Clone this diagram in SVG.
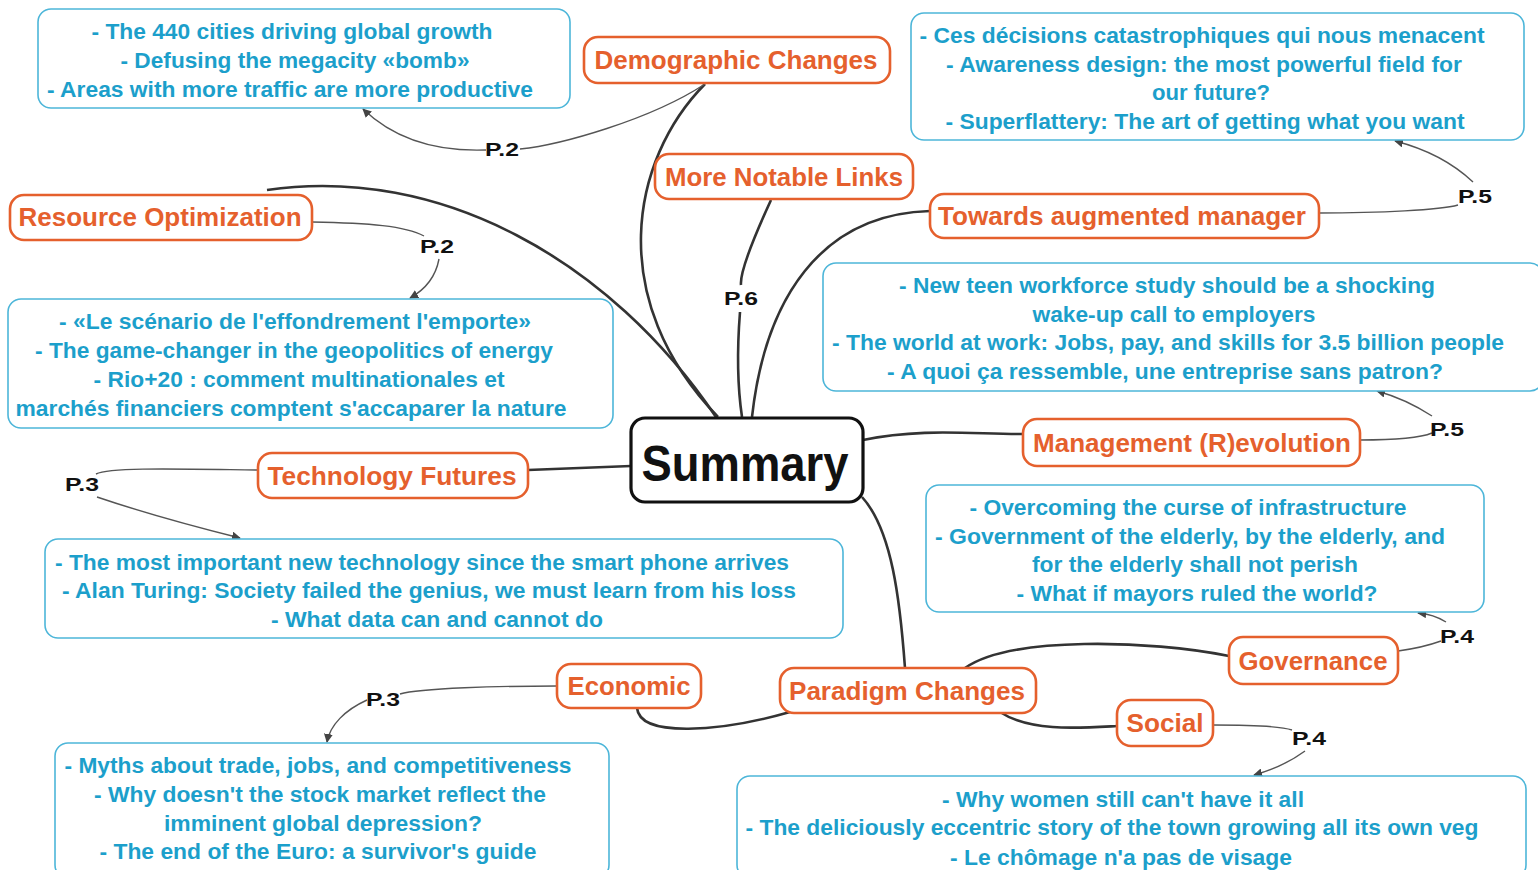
<svg xmlns="http://www.w3.org/2000/svg" width="1538" height="870" viewBox="0 0 1538 870">
<defs>
<style>
.bg{fill:#fff}
.box{fill:#fff;stroke:#4db6d9;stroke-width:1.6}
.bt{font-family:"Liberation Sans",Arial,sans-serif;font-weight:bold;font-size:22px;fill:#1c9fcb;text-anchor:middle}
.node{fill:#fff;stroke:#e5602d;stroke-width:2.6}
.nt{font-family:"Liberation Sans",Arial,sans-serif;font-weight:bold;font-size:25px;fill:#e5602d;text-anchor:middle}
.main{fill:#fff;stroke:#111;stroke-width:3.2}
.mt{font-family:"Liberation Sans",Arial,sans-serif;font-weight:bold;font-size:50px;fill:#111;text-anchor:middle}
.thick{fill:none;stroke:#333;stroke-width:2.6}
.thin{fill:none;stroke:#555;stroke-width:1.4}
.lbl{font-family:"Liberation Sans",Arial,sans-serif;font-weight:bold;font-size:19px;fill:#111;text-anchor:middle}
</style>
<marker id="arr" viewBox="0 0 10 10" refX="9" refY="5" markerWidth="9" markerHeight="9" markerUnits="userSpaceOnUse" orient="auto">
<path d="M0,0 L10,5 L0,10 z" fill="#444"/>
</marker>
</defs>
<rect class="bg" x="0" y="0" width="1538" height="870"/>

<g id="connectors">
<path class="thick" d="M705,84 C630,160 605,300 718,417"/>
<path class="thick" d="M771,200 C748,250 740,275 741,285"/>
<path class="thick" d="M740,312 C737,350 738,390 742,417"/>
<path class="thick" d="M752,417 C765,300 820,214 930,211"/>
<path class="thick" d="M267,190 C440,165 610,260 716,417"/>
<path class="thick" d="M528,470 L631,466"/>
<path class="thick" d="M863,440 C920,428 970,434 1023,434"/>
<path class="thick" d="M862,497 C892,530 900,600 905,668"/>
<path class="thick" d="M790,712 C720,732 640,738 637,708"/>
<path class="thick" d="M965,668 C1010,636 1150,640 1229,656"/>
<path class="thick" d="M1000,712 C1030,732 1080,728 1117,726"/>

<path class="thin" d="M705,84 C650,120 560,145 520,149"/>
<path class="thin" d="M486,150 C430,152 390,135 363,109" marker-end="url(#arr)"/>
<path class="thin" d="M312,222 C370,223 405,226 424,236"/>
<path class="thin" d="M439,259 C436,275 428,288 410,298" marker-end="url(#arr)"/>
<path class="thin" d="M1319,213 C1380,213 1440,210 1458,205"/>
<path class="thin" d="M1473,182 C1455,165 1430,150 1395,141" marker-end="url(#arr)"/>
<path class="thin" d="M1360,440 C1390,440 1420,438 1432,433"/>
<path class="thin" d="M1432,416 C1415,405 1395,396 1377,391" marker-end="url(#arr)"/>
<path class="thin" d="M258,470 C180,469 110,467 96,474"/>
<path class="thin" d="M97,497 C150,515 200,528 240,538" marker-end="url(#arr)"/>
<path class="thin" d="M1398,651 C1420,648 1430,645 1441,641"/>
<path class="thin" d="M1446,622 C1438,617 1430,614 1418,613" marker-end="url(#arr)"/>
<path class="thin" d="M557,686 C500,686 420,688 400,694"/>
<path class="thin" d="M367,700 C345,710 330,725 327,742" marker-end="url(#arr)"/>
<path class="thin" d="M1213,725 C1250,725 1280,726 1292,730"/>
<path class="thin" d="M1305,751 C1290,762 1272,770 1254,775" marker-end="url(#arr)"/>

<text class="lbl" x="502" y="156" textLength="34" lengthAdjust="spacingAndGlyphs">P.2</text>
<text class="lbl" x="437" y="253" textLength="34" lengthAdjust="spacingAndGlyphs">P.2</text>
<text class="lbl" x="741" y="305" textLength="34" lengthAdjust="spacingAndGlyphs">P.6</text>
<text class="lbl" x="1475" y="203" textLength="34" lengthAdjust="spacingAndGlyphs">P.5</text>
<text class="lbl" x="1447" y="436" textLength="34" lengthAdjust="spacingAndGlyphs">P.5</text>
<text class="lbl" x="82" y="491" textLength="34" lengthAdjust="spacingAndGlyphs">P.3</text>
<text class="lbl" x="1457" y="643" textLength="34" lengthAdjust="spacingAndGlyphs">P.4</text>
<text class="lbl" x="383" y="706" textLength="34" lengthAdjust="spacingAndGlyphs">P.3</text>
<text class="lbl" x="1309" y="745" textLength="34" lengthAdjust="spacingAndGlyphs">P.4</text>
</g>

<g id="box-demographic">
<rect class="box" x="38" y="9" width="532" height="99" rx="13"/>
<text class="bt" x="292" y="39" textLength="401" lengthAdjust="spacingAndGlyphs">- The 440 cities driving global growth</text>
<text class="bt" x="295" y="68" textLength="349" lengthAdjust="spacingAndGlyphs">- Defusing the megacity «bomb»</text>
<text class="bt" x="290" y="97" textLength="486" lengthAdjust="spacingAndGlyphs">- Areas with more traffic are more productive</text>
</g>

<g id="node-demographic">
<rect class="node" x="584" y="37" width="306" height="46" rx="14"/>
<text class="nt" x="736" y="69" textLength="283" lengthAdjust="spacingAndGlyphs">Demographic Changes</text>
</g>

<g id="box-augmented">
<rect class="box" x="911" y="13" width="613" height="127" rx="13"/>
<text class="bt" x="1202" y="43" textLength="565" lengthAdjust="spacingAndGlyphs">- Ces décisions catastrophiques qui nous menacent</text>
<text class="bt" x="1204" y="72" textLength="516" lengthAdjust="spacingAndGlyphs">- Awareness design: the most powerful field for</text>
<text class="bt" x="1211" y="100" textLength="118" lengthAdjust="spacingAndGlyphs">our future?</text>
<text class="bt" x="1205" y="129" textLength="519" lengthAdjust="spacingAndGlyphs">- Superflattery: The art of getting what you want</text>
</g>

<g id="node-notable">
<rect class="node" x="655" y="154" width="258" height="45" rx="14"/>
<text class="nt" x="784" y="186" textLength="238" lengthAdjust="spacingAndGlyphs">More Notable Links</text>
</g>

<g id="node-augmented">
<rect class="node" x="930" y="194" width="389" height="44" rx="14"/>
<text class="nt" x="1122" y="225" textLength="368" lengthAdjust="spacingAndGlyphs">Towards augmented manager</text>
</g>

<g id="node-resource">
<rect class="node" x="10" y="195" width="302" height="45" rx="14"/>
<text class="nt" x="160" y="226" textLength="283" lengthAdjust="spacingAndGlyphs">Resource Optimization</text>
</g>

<g id="box-resource">
<rect class="box" x="8" y="299" width="605" height="129" rx="13"/>
<text class="bt" x="295" y="329" textLength="472" lengthAdjust="spacingAndGlyphs">- «Le scénario de l'effondrement l'emporte»</text>
<text class="bt" x="294" y="358" textLength="518" lengthAdjust="spacingAndGlyphs">- The game-changer in the geopolitics of energy</text>
<text class="bt" x="299" y="387" textLength="411" lengthAdjust="spacingAndGlyphs">- Rio+20 : comment multinationales et</text>
<text class="bt" x="291" y="416" textLength="551" lengthAdjust="spacingAndGlyphs">marchés financiers comptent s'accaparer la nature</text>
</g>

<g id="box-management">
<rect class="box" x="823" y="263" width="720" height="128" rx="13"/>
<text class="bt" x="1167" y="293" textLength="536" lengthAdjust="spacingAndGlyphs">- New teen workforce study should be a shocking</text>
<text class="bt" x="1174" y="322" textLength="283" lengthAdjust="spacingAndGlyphs">wake-up call to employers</text>
<text class="bt" x="1168" y="350" textLength="672" lengthAdjust="spacingAndGlyphs">- The world at work: Jobs, pay, and skills for 3.5 billion people</text>
<text class="bt" x="1165" y="379" textLength="556" lengthAdjust="spacingAndGlyphs">- A quoi ça ressemble, une entreprise sans patron?</text>
</g>

<g id="node-summary">
<rect class="main" x="631" y="418" width="232" height="84" rx="14"/>
<text class="mt" x="745" y="481" textLength="207" lengthAdjust="spacingAndGlyphs">Summary</text>
</g>

<g id="node-management">
<rect class="node" x="1023" y="419" width="337" height="47" rx="14"/>
<text class="nt" x="1192" y="452" textLength="318" lengthAdjust="spacingAndGlyphs">Management (R)evolution</text>
</g>

<g id="node-technology">
<rect class="node" x="258" y="453" width="270" height="45" rx="14"/>
<text class="nt" x="392" y="485" textLength="249" lengthAdjust="spacingAndGlyphs">Technology Futures</text>
</g>

<g id="box-governance">
<rect class="box" x="926" y="485" width="558" height="127" rx="13"/>
<text class="bt" x="1188" y="515" textLength="437" lengthAdjust="spacingAndGlyphs">- Overcoming the curse of infrastructure</text>
<text class="bt" x="1190" y="544" textLength="510" lengthAdjust="spacingAndGlyphs">- Government of the elderly, by the elderly, and</text>
<text class="bt" x="1195" y="572" textLength="326" lengthAdjust="spacingAndGlyphs">for the elderly shall not perish</text>
<text class="bt" x="1197" y="601" textLength="361" lengthAdjust="spacingAndGlyphs">- What if mayors ruled the world?</text>
</g>

<g id="box-technology">
<rect class="box" x="45" y="539" width="798" height="99" rx="13"/>
<text class="bt" x="422" y="570" textLength="734" lengthAdjust="spacingAndGlyphs">- The most important new technology since the smart phone arrives</text>
<text class="bt" x="429" y="598" textLength="734" lengthAdjust="spacingAndGlyphs">- Alan Turing: Society failed the genius, we must learn from his loss</text>
<text class="bt" x="437" y="627" textLength="332" lengthAdjust="spacingAndGlyphs">- What data can and cannot do</text>
</g>

<g id="node-governance">
<rect class="node" x="1229" y="637" width="169" height="47" rx="14"/>
<text class="nt" x="1313" y="670" textLength="149" lengthAdjust="spacingAndGlyphs">Governance</text>
</g>

<g id="node-economic">
<rect class="node" x="557" y="664" width="144" height="44" rx="14"/>
<text class="nt" x="629" y="695" textLength="123" lengthAdjust="spacingAndGlyphs">Economic</text>
</g>

<g id="node-paradigm">
<rect class="node" x="780" y="668" width="256" height="45" rx="14"/>
<text class="nt" x="907" y="700" textLength="236" lengthAdjust="spacingAndGlyphs">Paradigm Changes</text>
</g>

<g id="node-social">
<rect class="node" x="1117" y="700" width="96" height="46" rx="14"/>
<text class="nt" x="1165" y="732" textLength="77" lengthAdjust="spacingAndGlyphs">Social</text>
</g>

<g id="box-economic">
<rect class="box" x="55" y="743" width="554" height="135" rx="13"/>
<text class="bt" x="318" y="773" textLength="507" lengthAdjust="spacingAndGlyphs">- Myths about trade, jobs, and competitiveness</text>
<text class="bt" x="320" y="802" textLength="452" lengthAdjust="spacingAndGlyphs">- Why doesn't the stock market reflect the</text>
<text class="bt" x="323" y="831" textLength="318" lengthAdjust="spacingAndGlyphs">imminent global depression?</text>
<text class="bt" x="318" y="859" textLength="437" lengthAdjust="spacingAndGlyphs">- The end of the Euro: a survivor's guide</text>
</g>

<g id="box-social">
<rect class="box" x="737" y="776" width="789" height="102" rx="13"/>
<text class="bt" x="1123" y="807" textLength="362" lengthAdjust="spacingAndGlyphs">- Why women still can't have it all</text>
<text class="bt" x="1112" y="835" textLength="733" lengthAdjust="spacingAndGlyphs">- The deliciously eccentric story of the town growing all its own veg</text>
<text class="bt" x="1121" y="865" textLength="342" lengthAdjust="spacingAndGlyphs">- Le chômage n'a pas de visage</text>
</g>
</svg>
